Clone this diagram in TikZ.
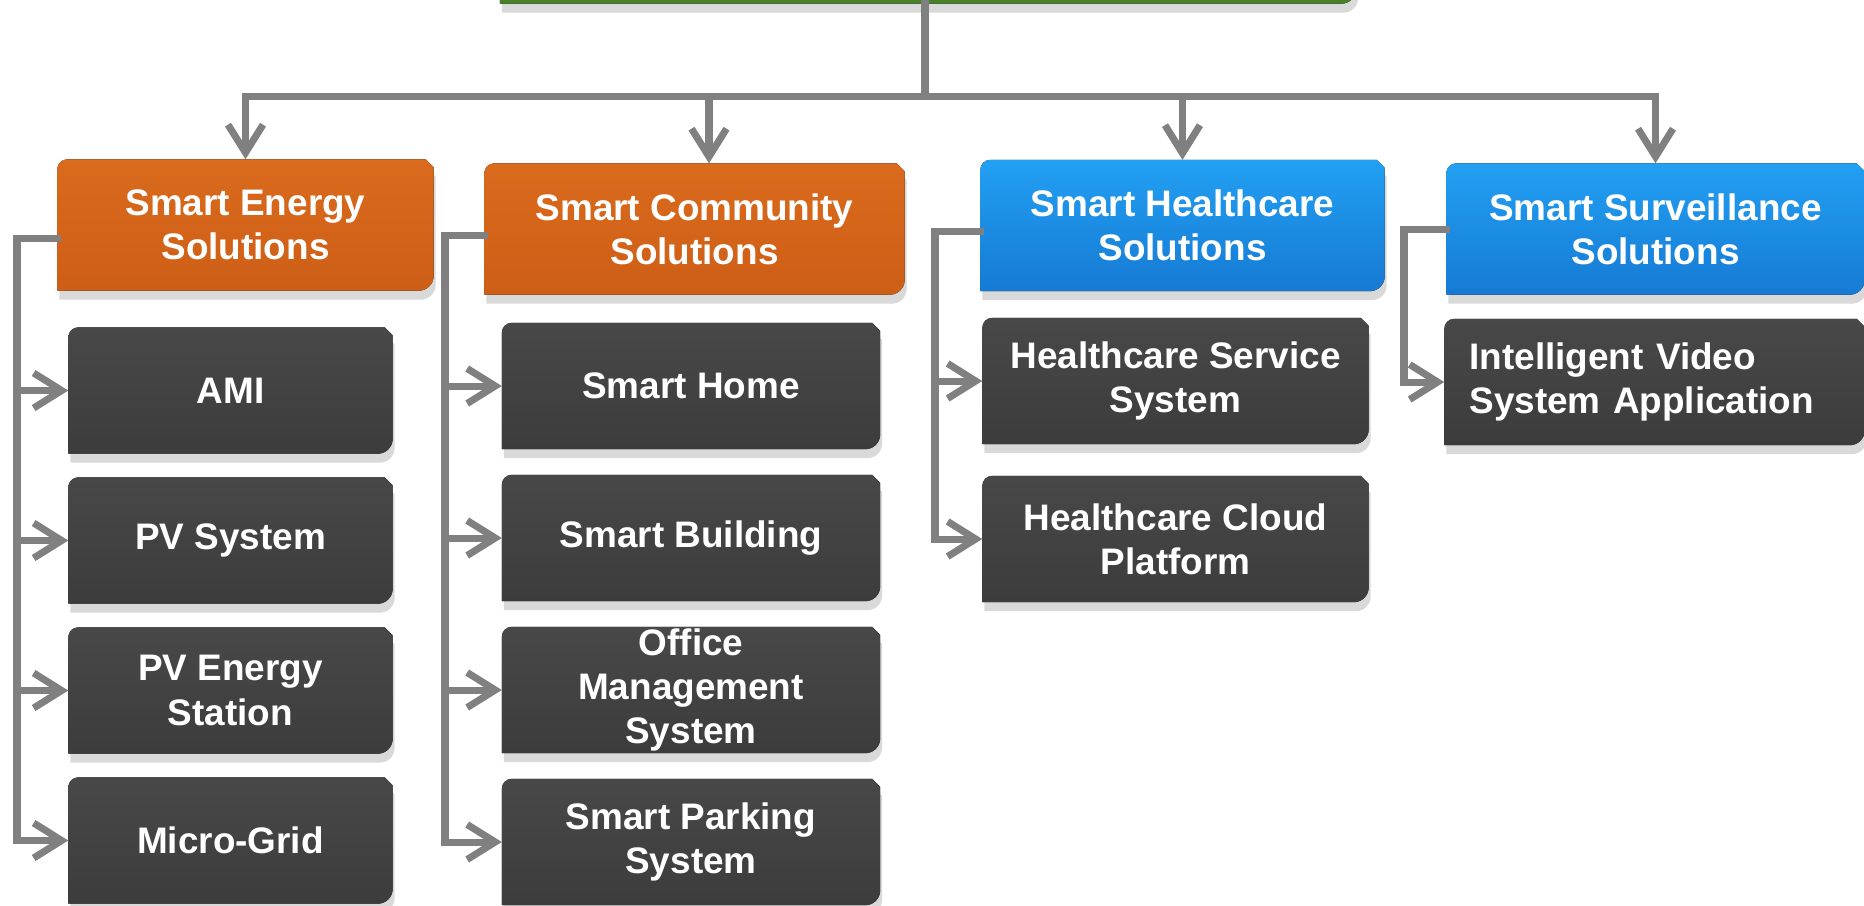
\documentclass[tikz,border=0pt]{standalone}
\usepackage{fontspec}
\setmainfont{Liberation Sans}
\usetikzlibrary{arrows.meta,backgrounds}

\definecolor{linegray}{RGB}{128,128,128}
\definecolor{orangetop}{RGB}{218,106,28}
\definecolor{orangebot}{RGB}{205,94,22}
\definecolor{bluetop}{RGB}{34,160,243}
\definecolor{bluebot}{RGB}{22,122,212}
\definecolor{darktop}{RGB}{72,72,72}
\definecolor{darkbot}{RGB}{60,60,60}
\definecolor{greentop}{RGB}{96,160,60}
\definecolor{greenbot}{RGB}{70,128,40}

\tikzset{
  orange fill/.style={top color=orangetop,bottom color=orangebot},
  blue fill/.style={top color=bluetop,bottom color=bluebot},
  dark fill/.style={top color=darktop,bottom color=darkbot},
  green fill/.style={top color=greentop,bottom color=greenbot},
  % round top-left and bottom-right, clipped top-right
  box outline/.style={insert path={(#1.south west) -- ([yshift=-1mm]#1.north west)
      arc[start angle=180,end angle=90,radius=1mm] -- ([xshift=-.8mm]#1.north east)
      -- ([yshift=-.8mm]#1.north east) -- ([yshift=1.5mm]#1.south east)
      arc[start angle=0,end angle=-90,radius=1.5mm] -- cycle}},
  tile/.style={text=white,font=\bfseries\fontsize{10.5}{12.6}\selectfont,align=center,inner sep=0pt,
    append after command={\pgfextra{\begin{pgfonlayer}{background}
      \fill[black,opacity=.15,transform canvas={shift={(.2mm,-.9mm)}},box outline=\tikzlastnode];
      \fill[#1,box outline=\tikzlastnode];
    \end{pgfonlayer}}}},
  link/.style={draw=linegray,line width=2pt,line cap=rect},
  drop/.style={to path={-| (\tikztotarget) \tikztonodes}},
  elbow/.style={to path={|- (\tikztotarget) \tikztonodes}}
}

\begin{document}
\begin{tikzpicture}[->,>={Straight Barb[length=2.8mm,width=3.5mm]},node distance=1.52cm,
                    every edge/.style=link,
                    cat node/.style={tile=#1,minimum height=1.3cm},
                    sub node/.style={tile=dark fill,minimum height=1.25cm}]

  \useasboundingbox (0,0) rectangle (18.64,-9.05);

  \node[cat node=green fill,minimum width=8.55cm,minimum height=1.2cm] (top) at (9.28,0.57) {};

  \node[cat node=orange fill,minimum width=3.75cm] (energy) at (2.455,-2.25) {Smart Energy\\Solutions};
  \node[cat node=orange fill,minimum width=4.19cm] (community) at (6.945,-2.29) {Smart Community\\Solutions};
  \node[cat node=blue fill,minimum width=4.03cm] (health) at (11.825,-2.255) {Smart Healthcare\\Solutions};
  \node[cat node=blue fill,minimum width=4.17cm] (surveil) at (16.555,-2.29) {Smart Surveillance\\Solutions};

  % energy column
  \node[sub node,minimum width=3.23cm] (ami) [below of=energy,xshift=-1.5mm,node distance=1.655cm] {AMI};
  \node[sub node,minimum width=3.23cm] (pvsys) [below of=ami,node distance=1.5cm] {PV System};
  \node[sub node,minimum width=3.23cm] (pvstation) [below of=pvsys,node distance=1.5cm] {PV Energy\\Station};
  \node[sub node,minimum width=3.23cm] (microgrid) [below of=pvstation,node distance=1.5cm] {Micro-Grid};

  % community column
  \node[sub node,minimum width=3.77cm] (home) [below of=community,xshift=-.35mm,node distance=1.57cm] {Smart Home};
  \node[sub node,minimum width=3.77cm] (building) [below of=home] {Smart Building};
  \node[sub node,minimum width=3.77cm] (office) [below of=building] {Office\\Management\\System};
  \node[sub node,minimum width=3.77cm] (parking) [below of=office] {Smart Parking\\System};

  % healthcare column
  \node[sub node,minimum width=3.85cm] (hservice) [below of=health,xshift=-.7mm,node distance=1.555cm] {Healthcare Service\\System};
  \node[sub node,minimum width=3.85cm] (hcloud) [below of=hservice,node distance=1.58cm] {Healthcare Cloud\\Platform};

  % surveillance column
  \node[sub node,minimum width=4.19cm,align=left,text width=3.7cm] (video) [below of=surveil,xshift=-.1mm,node distance=1.53cm] {Intelligent Video\\System Application};

  \coordinate (hub) at (9.25,-0.96);
  \coordinate (ebend) at (0.17,-2.38);
  \coordinate (cbend) at (4.45,-2.35);
  \coordinate (hbend) at (9.35,-2.31);
  \coordinate (sbend) at (14.04,-2.29);

  \draw[link,-] (hub |- top.south) -- (hub);
  \path (hub) edge[drop] (energy)
              edge[drop] ([xshift=1.45mm]community.north)
              edge[drop] (health)
              edge[drop] (surveil);

  \draw[link,-] (energy.west |- ebend) -- (ebend);
  \path (ebend) edge[elbow] (ami)
                edge[elbow] (pvsys)
                edge[elbow] (pvstation)
                edge[elbow] (microgrid);

  \draw[link,-] (community.west |- cbend) -- (cbend);
  \path (cbend) edge[elbow] (home)
                edge[elbow] (building)
                edge[elbow] (office)
                edge[elbow] (parking);

  \draw[link,-] (health.west |- hbend) -- (hbend);
  \path (hbend) edge[elbow] (hservice)
                edge[elbow] (hcloud);

  \draw[link,-] (surveil.west |- sbend) -- (sbend);
  \path (sbend) edge[elbow] (video);
\end{tikzpicture}
\end{document}
